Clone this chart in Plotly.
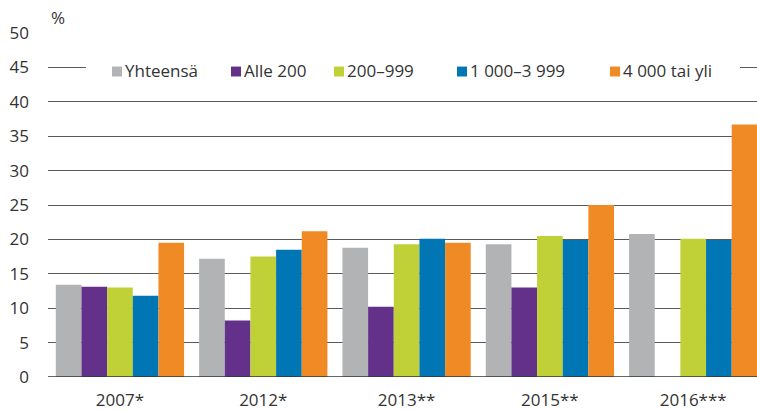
import plotly.graph_objects as go

# Survey years (asterisks mark different data sources)
years = ["2007*", "2012*", "2013**", "2015**", "2016***"]

# Share (%) by size class
series_names = ["Yhteensä", "Alle 200", "200–999", "1 000–3 999", "4 000 tai yli"]
yhteensa = [13.4, 17.2, 18.8, 19.3, 20.8]
alle_200 = [13.1, 8.2, 10.2, 13.0, None]
v200_999 = [13.0, 17.5, 19.3, 20.5, 20.1]
v1000_3999 = [11.8, 18.5, 20.1, 19.9, 19.9]
v4000_yli = [19.5, 21.2, 19.5, 25.0, 36.7]

y_ticks = [0, 5, 10, 15, 20, 25, 30, 35, 40, 45, 50]

colors = ["#B1B3B5", "#63318A", "#BFD136", "#0077B4", "#F08A24"]
values = [yhteensa, alle_200, v200_999, v1000_3999, v4000_yli]

FONT = "Open Sans, Noto Sans, sans-serif"
TXT = "#333333"

W, H = 757, 411
ML, MR, MT, MB = 48, 0, 33, 32
PW = W - ML - MR

fig = go.Figure()
for name, vals, col in zip(series_names, values, colors):
    fig.add_trace(go.Bar(
        x=list(range(len(years))), y=vals, name=name,
        marker=dict(color=col, line=dict(width=0)),
        showlegend=False,
    ))

# Horizontal legend row drawn over the 45 gridline
def px_to_paper(px):
    return (px - ML) / PW

shapes = [dict(type="rect", xref="paper", yref="y",
               x0=px_to_paper(86), x1=px_to_paper(740), y0=43.2, y1=46.6,
               fillcolor="white", line=dict(width=0), layer="above")]
annotations = []
legend_sq_x = [112, 231, 334, 457, 610]
for sx, name, col in zip(legend_sq_x, series_names, colors):
    shapes.append(dict(type="rect", xref="paper", yref="y",
                       x0=px_to_paper(sx), x1=px_to_paper(sx + 10),
                       y0=44.4 - 0.72, y1=44.4 + 0.72,
                       fillcolor=col, line=dict(width=0), layer="above"))
    annotations.append(dict(xref="paper", yref="y", x=px_to_paper(sx + 11), y=44.5,
                            text=name, showarrow=False, xanchor="left", yanchor="middle",
                            font=dict(family=FONT, size=17, color=TXT)))

# Axis unit label
annotations.append(dict(xref="paper", yref="paper", x=px_to_paper(49), y=1.0,
                        text="%", showarrow=False, xanchor="left", yanchor="bottom",
                        yshift=2, font=dict(family=FONT, size=17, color=TXT)))

# Baseline at zero
shapes.append(dict(type="line", xref="paper", yref="y", x0=0, x1=1, y0=0, y1=0,
                   line=dict(color="#333333", width=1.6), layer="above"))

fig.update_layout(
    width=W, height=H,
    margin=dict(l=ML, r=MR, t=MT, b=MB),
    paper_bgcolor="white", plot_bgcolor="white",
    barmode="group", bargap=0.105, bargroupgap=0,
    font=dict(family=FONT, size=17, color=TXT),
    shapes=shapes, annotations=annotations,
    xaxis=dict(
        tickmode="array", tickvals=list(range(len(years))), ticktext=years,
        range=[-0.502, 4.445], showgrid=False, zeroline=False, showline=False,
        ticks="", ticklabelstandoff=11,
        tickfont=dict(family=FONT, size=17, color=TXT),
    ),
    yaxis=dict(
        range=[0, 50], tickvals=y_ticks, showgrid=True, gridcolor="#5a5a5a",
        gridwidth=1, zeroline=False, showline=False, ticks="",
        ticklabelstandoff=18,
        tickfont=dict(family=FONT, size=17, color=TXT),
    ),
)

fig.write_html("out.html")
